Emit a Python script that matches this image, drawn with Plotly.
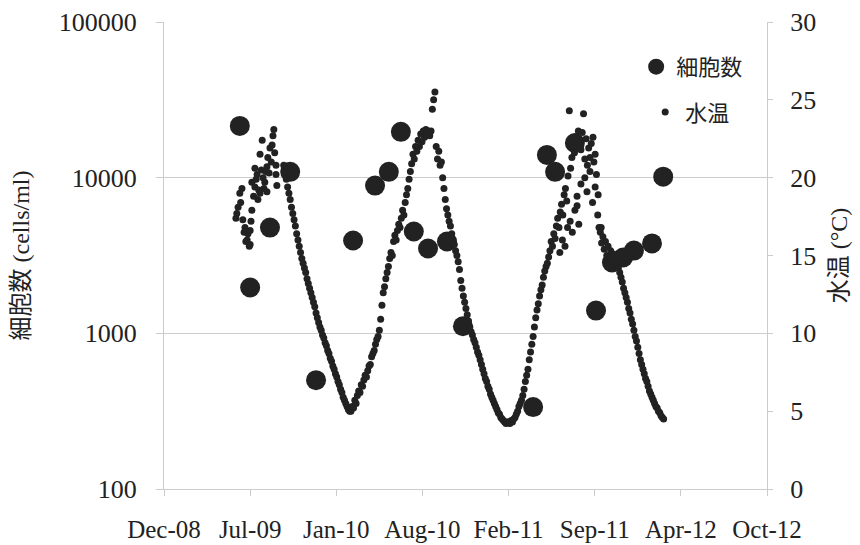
import pandas as pd
import plotly.graph_objects as go

# ---------------- data ----------------
AXIS_ORIGIN = "2008-12-18"          # day 0 of the temperature day offsets
x_tick_dates = ["2008-12-18", "2009-07-06", "2010-01-22", "2010-08-10",
                "2011-02-26", "2011-09-14", "2012-04-01", "2012-10-18"]

cell_dates = ["2009-06-12", "2009-07-06", "2009-08-21", "2009-10-07", "2009-12-06",
              "2010-03-02", "2010-04-22", "2010-05-24", "2010-06-21", "2010-07-21",
              "2010-08-23", "2010-10-06", "2010-11-12", "2011-04-24", "2011-05-26",
              "2011-06-14", "2011-07-30", "2011-09-17", "2011-10-24", "2011-11-19",
              "2011-12-14", "2012-01-25", "2012-02-20"]
cell_counts = [21500, 1970, 4780, 10900, 500,
               3950, 8890, 10900, 19700, 4510,
               3510, 3890, 1110, 336, 14000,
               10900, 16700, 1400, 2850, 3070,
               3400, 3780, 10150]

# summer 2009 (scattered readings): day offset / degC
temp_summer09_day = [167, 169, 172, 176, 178, 181, 183, 186, 188, 190, 193, 195, 198, 200, 200,
                     202, 204, 204, 208, 211, 211, 214, 216, 218, 220, 223, 223, 226, 228, 230,
                     232, 234, 236, 239, 239, 241, 244, 246, 249, 251, 253, 255, 257, 260, 260, 262]
temp_summer09_c = [17.4, 17.7, 18.1, 19.0, 18.4, 19.3, 17.3, 16.5, 16.8, 15.9, 16.0, 16.4, 15.6, 15.7, 16.6,
                   17.2, 19.7, 17.9, 18.8, 19.4, 20.6, 19.9, 20.2, 18.6, 19.2, 19.0, 21.5, 20.5, 22.4, 20.0,
                   19.3, 19.7, 20.4, 19.1, 20.7, 21.3, 20.3, 21.9, 21.0, 22.1, 22.7, 23.1, 21.6, 20.8, 20.2, 19.5]

# regular readings every 3 days, starting at the given day offset
temp_autumn09_start = 278
temp_autumn09_c = [20.8, 20.4, 19.9, 19.4, 19.0, 18.6, 18.1, 17.7, 17.3, 16.9, 16.4, 16.0, 15.6, 15.2,
                   14.8, 14.5, 14.2, 13.9, 13.5, 13.2, 12.9, 12.6, 12.3, 12.0, 11.7, 11.3, 11.0, 10.7,
                   10.4, 10.2, 9.9, 9.7, 9.4, 9.2, 8.9, 8.7, 8.4, 8.2, 7.9, 7.7, 7.4, 7.2, 6.9, 6.7,
                   6.4, 6.2, 5.9, 5.7, 5.5, 5.3, 5.1, 5.0]
temp_spring10_start = 434
temp_spring10_c = [5.0, 5.3, 5.2, 5.7, 5.5, 6.0, 6.3, 6.2, 6.7, 6.6, 7.0, 7.3, 7.2, 7.6, 7.9, 8.0,
                   8.5, 8.7, 8.9, 9.3, 9.6, 9.8, 10.2, 10.9, 11.8, 12.6, 13.0, 13.5, 13.9, 14.3,
                   14.8, 15.2, 15.0, 15.9, 16.3, 16.0, 16.6, 17.0, 16.8, 17.4, 17.9, 17.6, 18.4,
                   18.9, 19.3, 19.9, 20.4, 20.9, 21.5, 21.2, 22.0, 21.7, 22.4, 22.0, 22.8, 22.3,
                   23.0, 22.6, 23.1, 22.8, 23.0, 22.7, 23.0, 24.4, 25.0, 25.5]
temp_autumn10_start = 632
temp_autumn10_c = [22.0, 21.2, 21.7, 20.8, 21.0, 20.0, 19.3, 18.6, 18.0, 17.6, 17.2, 16.9, 16.4, 16.0,
                   15.7, 15.3, 15.0, 14.6, 14.1, 13.4, 12.9, 12.4, 12.0, 11.6, 11.2, 10.8, 10.4, 10.1,
                   9.9, 9.6, 9.4, 9.1, 8.8, 8.6, 8.3, 8.0, 7.7, 7.4, 7.1, 6.9, 6.6, 6.4, 6.1, 5.9,
                   5.7, 5.5, 5.3, 5.1, 4.9, 4.8, 4.6, 4.5, 4.4, 4.3, 4.2, 4.3]
temp_spring11_start = 800
temp_spring11_c = [4.3, 4.2, 4.4, 4.3, 4.5, 4.6, 4.8, 5.0, 5.3, 5.5, 5.7, 6.0, 6.4, 6.9, 7.3, 7.7,
                   8.3, 8.8, 9.3, 9.8, 10.4, 11.0, 11.5, 11.9, 12.4, 12.8, 13.1, 13.6, 14.0, 14.3,
                   14.5, 14.9, 15.3, 15.9, 15.6, 16.4, 16.1, 16.9, 17.4, 16.8, 17.8, 18.3, 17.6,
                   18.9, 19.3, 18.5, 20.1, 24.3, 20.6, 21.3, 22.0, 21.6, 22.6, 18.2, 23.0, 22.4,
                   21.8, 22.9, 24.1, 21.2, 22.5, 20.8, 21.9, 20.4, 22.2, 18.4, 21.0, 19.4, 20.2,
                   17.6, 16.8]
temp_autumn11_start = 1013
temp_autumn11_c = [16.5, 15.8, 16.2, 15.4, 15.9, 15.0, 15.6, 14.9, 15.3, 14.8, 15.1, 14.7, 14.6, 14.4,
                   14.2, 13.9, 13.6, 13.3, 12.9, 12.6, 12.3, 12.0, 11.6, 11.3, 10.9, 10.6, 10.2, 9.8,
                   9.5, 9.1, 8.7, 8.3, 8.0, 7.7, 7.4, 7.1, 6.9, 6.6, 6.3, 6.1, 5.9, 5.7, 5.5, 5.3,
                   5.2, 5.0, 4.9, 4.7, 4.6, 4.5]

# extra scattered summer 2011 readings
temp_extra11_day = [919, 925, 931, 937, 943, 948, 954, 959, 963, 968, 977, 982, 989, 996, 1001, 1008, 1015]
temp_extra11_c = [15.2, 16.0, 15.6, 16.8, 17.2, 16.5, 17.9, 18.8, 17.0, 19.6, 20.0, 19.1, 21.3, 22.6,
                  21.5, 18.9, 16.8]

# ---------------- assemble temperature series ----------------
days, temps = [], []
days += temp_summer09_day
temps += temp_summer09_c
for start, vals in [(temp_autumn09_start, temp_autumn09_c), (temp_spring10_start, temp_spring10_c),
                    (temp_autumn10_start, temp_autumn10_c), (temp_spring11_start, temp_spring11_c),
                    (temp_autumn11_start, temp_autumn11_c)]:
    days += [start + 3 * i for i in range(len(vals))]
    temps += vals
days += temp_extra11_day
temps += temp_extra11_c
temp_dates = pd.to_datetime(days, unit="D", origin=pd.Timestamp(AXIS_ORIGIN))

INK = "#222222"
GRID = "#cccccc"
SERIF = "Liberation Serif"
MIXED = "Liberation Serif, Noto Sans CJK JP"
CJK = "Noto Sans CJK JP"

fig = go.Figure()
fig.add_trace(go.Scatter(
    x=pd.to_datetime(cell_dates), y=cell_counts, mode="markers", name="細胞数",
    marker=dict(size=20, color=INK), legend="legend", showlegend=True))
fig.add_trace(go.Scatter(
    x=temp_dates, y=temps, yaxis="y2", mode="markers", name="水温",
    marker=dict(size=7, color=INK), legend="legend2", showlegend=True))

fig.update_layout(
    width=860, height=545,
    margin=dict(l=164, r=93, t=22, b=56),
    paper_bgcolor="white", plot_bgcolor="white",
    showlegend=True,
    font=dict(family=MIXED, color=INK),
    xaxis=dict(
        type="date", range=[x_tick_dates[0], x_tick_dates[-1]],
        tickvals=x_tick_dates, tickformat="%b-%y", automargin=False,
        showgrid=False, showline=True, linecolor=GRID, linewidth=1,
        ticks="outside", ticklen=6, tickcolor=GRID,
        tickfont=dict(family=SERIF, size=25, color=INK),
        ticklabelstandoff=12, zeroline=False),
    yaxis=dict(
        type="log", range=[2, 5], automargin=False,
        tickvals=[100, 1000, 10000, 100000], ticktext=["100", "1000", "10000", "100000"],
        showgrid=True, gridcolor=GRID, gridwidth=1,
        showline=True, linecolor=GRID, ticks="outside", ticklen=7, tickcolor=GRID,
        tickfont=dict(family=SERIF, size=26, color=INK), ticklabelstandoff=14,
        title=dict(text="細胞数 (cells/ml)", font=dict(family=MIXED, size=24, color=INK), standoff=22)),
    yaxis2=dict(
        overlaying="y", side="right", range=[0, 30], automargin=False,
        tickvals=[0, 5, 10, 15, 20, 25, 30],
        showgrid=False, zeroline=False, showline=True, linecolor=GRID,
        ticks="outside", ticklen=5, tickcolor=GRID,
        tickfont=dict(family=SERIF, size=26, color=INK), ticklabelstandoff=12,
        title=dict(text="水温 (°C)", font=dict(family=MIXED, size=24, color=INK), standoff=14)),
    legend=dict(x=0.783, y=0.904, xanchor="left", yanchor="middle",
                bgcolor="rgba(0,0,0,0)", font=dict(family=CJK, size=22, color=INK),
                itemsizing="trace"),
    legend2=dict(x=0.798, y=0.807, xanchor="left", yanchor="middle",
                 bgcolor="rgba(0,0,0,0)", font=dict(family=CJK, size=22, color=INK),
                 itemsizing="trace"),
)

fig.write_html("out.html")
